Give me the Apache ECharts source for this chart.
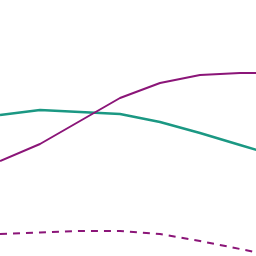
<!DOCTYPE html>
<html><head><meta charset="utf-8">
<script src="https://cdn.jsdelivr.net/npm/echarts@6/dist/echarts.min.js"></script>
<style>html,body{margin:0;padding:0;background:#fff}#c{width:256px;height:256px}</style>
</head><body><div id="c"></div>
<script>
var xs = [0, 1, 2, 3, 4, 5, 6, 7];
var purpleSolid = [95, 112, 135, 158, 173, 181, 183, 183];
var tealSolid = [141, 146, 144, 142, 134, 123, 111, 99];
var purpleDashed = [22, 23.5, 25, 25, 22, 15, 7, -1];
function pairs(v){ return xs.map(function(x,i){ return [x, v[i]]; }); }
var chart = echarts.init(document.getElementById('c'));
chart.setOption({
  animation: false,
  grid: {left: 0, right: 0, top: 0, bottom: 0},
  xAxis: {type: 'value', min: 0, max: 6.4, show: false},
  yAxis: {type: 'value', min: 0, max: 256, show: false},
  series: [
    {type: 'line', data: pairs(tealSolid), symbol: 'none', lineStyle: {color: '#1b9883', width: 2.5}},
    {type: 'line', data: pairs(purpleSolid), symbol: 'none', lineStyle: {color: '#8b1578', width: 2}},
    {type: 'line', data: pairs(purpleDashed), symbol: 'none', lineStyle: {color: '#8b1578', width: 2, type: [7, 6]}}
  ]
});
</script></body></html>
